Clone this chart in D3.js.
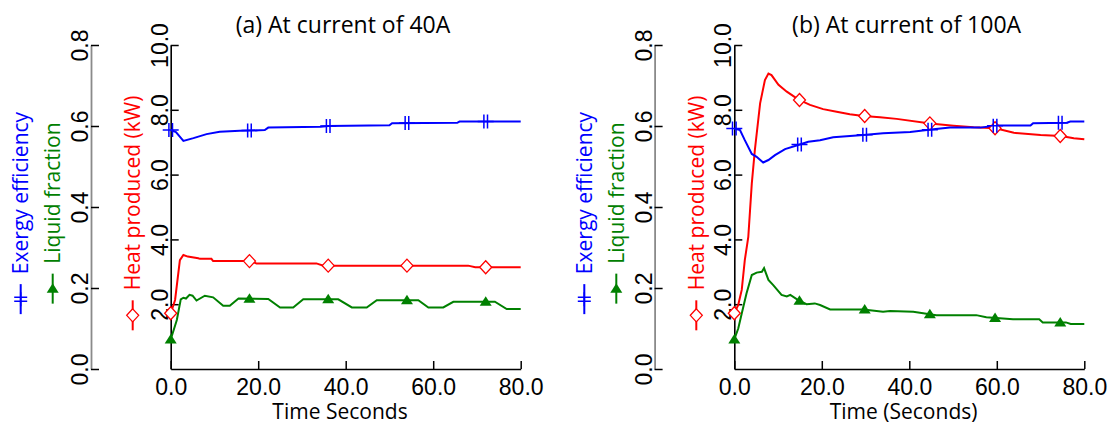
<!DOCTYPE html>
<html>
<head>
<meta charset="utf-8">
<script src="https://cdn.jsdelivr.net/npm/d3@7"></script>
<style>
  body { margin: 0; background: #fff; }
  .tick text { font-family: "Liberation Sans", Arial, sans-serif; font-size: 23px; fill: #000; }
  .lbl { font-family: "Open Sans", sans-serif; }
</style>
</head>
<body>
<svg width="1113" height="428"></svg>
<script>
// Tick values
var timeTicks = [0, 20, 40, 60, 80];
var heatTicks = [2, 4, 6, 8, 10];
var fracTicks = [0, 0.2, 0.4, 0.6, 0.8];

// (a) At current of 40A
var exergyTimeA = [0, 1.2, 2.9, 5.2, 8.2, 11.2, 15.8, 21.5, 22.3, 34.3, 36, 50, 50.6, 65.5, 66, 80];
var exergyA     = [0.590, 0.585, 0.563, 0.570, 0.580, 0.586, 0.588, 0.590, 0.596, 0.598, 0.600, 0.602, 0.607, 0.608, 0.611, 0.611];

var heatTimeA = [0, 1.0, 2.1, 2.9, 3.9, 6.3, 6.7, 9.3, 9.7, 18.1, 19.6, 33.3, 34.9, 68, 69.6, 80];
var heatA     = [1.72, 2.13, 3.36, 3.52, 3.47, 3.42, 3.40, 3.40, 3.33, 3.33, 3.26, 3.26, 3.19, 3.19, 3.14, 3.14];

var liquidTimeA = [0, 1.4, 2.3, 2.9, 3.5, 4.3, 5.0, 5.9, 7.8, 9.7, 12.0, 13.5, 15.5, 22.3, 25.0, 28.0, 30.3, 38.3, 41.4, 44.8, 47.1, 56.6, 58.9, 62.3, 64.6, 74.1, 76.8, 80];
var liquidA     = [0.073, 0.121, 0.172, 0.176, 0.174, 0.183, 0.181, 0.169, 0.181, 0.177, 0.156, 0.156, 0.174, 0.173, 0.152, 0.152, 0.172, 0.172, 0.152, 0.152, 0.170, 0.170, 0.152, 0.152, 0.166, 0.166, 0.148, 0.148];

var markTimesA = [0, 18, 36, 54, 72];

// (b) At current of 100A
var exergyTimeB = [0, 1.3, 2.4, 4.0, 5.1, 6.6, 7.8, 9.3, 11.6, 14.6, 16.9, 19.6, 22.6, 29.5, 34.0, 40.2, 45.5, 49.3, 56.2, 60.0, 67.7, 68.3, 76.0, 76.8, 80];
var exergyB     = [0.594, 0.590, 0.565, 0.531, 0.524, 0.510, 0.516, 0.528, 0.543, 0.553, 0.561, 0.565, 0.572, 0.578, 0.582, 0.585, 0.592, 0.596, 0.596, 0.601, 0.601, 0.607, 0.608, 0.611, 0.611];

var heatTimeB = [0, 0.9, 1.7, 2.4, 3.2, 4.0, 4.7, 5.9, 7.0, 7.8, 8.5, 10.1, 12.0, 14.6, 17.3, 20.3, 23.4, 26.4, 29.5, 33.3, 37.1, 44.8, 50.1, 54.7, 59.7, 63.9, 70.0, 74.7, 77.6, 80];
var heatB     = [1.72, 1.98, 2.44, 3.36, 4.08, 5.73, 6.76, 8.20, 8.92, 9.12, 9.07, 8.77, 8.56, 8.32, 8.15, 8.02, 7.94, 7.86, 7.81, 7.77, 7.72, 7.58, 7.51, 7.46, 7.43, 7.29, 7.22, 7.19, 7.12, 7.09];

var liquidTimeB = [0, 0.9, 1.7, 2.8, 4.0, 5.1, 6.3, 6.8, 7.8, 8.9, 10.8, 12.0, 12.8, 14.6, 16.5, 18.4, 19.6, 21.9, 29.5, 34.0, 35.6, 40.9, 46.2, 55.3, 57.6, 63.7, 69.7, 70.5, 75.8, 76.9, 80];
var liquidB     = [0.073, 0.100, 0.137, 0.187, 0.232, 0.238, 0.240, 0.249, 0.220, 0.207, 0.183, 0.179, 0.183, 0.170, 0.160, 0.162, 0.158, 0.147, 0.147, 0.1415, 0.143, 0.1415, 0.133, 0.133, 0.1276, 0.1226, 0.1226, 0.115, 0.115, 0.111, 0.111];

var markTimesB = [0, 14.9, 29.8, 44.7, 59.6, 74.5];

// Colours
var blue = "#0000ff", red = "#ff0000", green = "#008000";

var svg = d3.select("svg");

var panels = [
  { dx: 0, title: "(a) At current of 40A", xlabel: "Time Seconds",
    exergy: d3.zip(exergyTimeA, exergyA), heat: d3.zip(heatTimeA, heatA),
    liquid: d3.zip(liquidTimeA, liquidA), marks: markTimesA },
  { dx: 563.6, title: "(b) At current of 100A", xlabel: "Time (Seconds)",
    exergy: d3.zip(exergyTimeB, exergyB), heat: d3.zip(heatTimeB, heatB),
    liquid: d3.zip(liquidTimeB, liquidB), marks: markTimesB }
];

panels.forEach(drawPanel);

// Panel drawing
// -------------

function drawPanel(p) {
  var g = svg.append("g").attr("transform", "translate(" + p.dx + ",0)");

  var x = d3.scaleLinear().domain([0, 80]).range([170.7, 520.7]),
      yHeat = d3.scaleLinear().domain([0, 10]).range([369, 45]),
      yFrac = d3.scaleLinear().domain([0, 0.8]).range([369, 45]);

  // outer axis (exergy / liquid fraction)
  var outer = g.append("g").attr("transform", "translate(91,0)")
      .call(d3.axisLeft(yFrac).tickValues(fracTicks).tickSizeInner(-8).tickSizeOuter(0).tickFormat(d3.format(".1f")));
  outer.select(".domain").attr("stroke", "#8a8a8a").attr("stroke-width", 1.8);
  styleY(outer);

  // heat axis
  var inner = g.append("g").attr("transform", "translate(170.7,0)")
      .call(d3.axisLeft(yHeat).tickValues(heatTicks).tickSizeInner(-8).tickSizeOuter(0).tickFormat(d3.format(".1f")));
  inner.select(".domain").attr("stroke-width", 1.6);
  styleY(inner);

  // time axis
  var bottom = g.append("g").attr("transform", "translate(0,369)")
      .call(d3.axisBottom(x).tickValues(timeTicks).tickSizeInner(-8).tickSizeOuter(0).tickFormat(d3.format(".1f")));
  bottom.select(".domain").attr("stroke-width", 1.6);
  bottom.selectAll(".tick line").attr("stroke-width", 1.5);
  bottom.selectAll(".tick text").attr("y", 26).attr("dy", null);

  // lines
  var lineFrac = d3.line().x(function(d) { return x(d[0]); }).y(function(d) { return yFrac(d[1]); });
  var lineHeat = d3.line().x(function(d) { return x(d[0]); }).y(function(d) { return yHeat(d[1]); });

  g.append("path").datum(p.liquid).attr("d", lineFrac)
      .attr("fill", "none").attr("stroke", green).attr("stroke-width", 2);
  g.append("path").datum(p.heat).attr("d", lineHeat)
      .attr("fill", "none").attr("stroke", red).attr("stroke-width", 2);
  g.append("path").datum(p.exergy).attr("d", lineFrac)
      .attr("fill", "none").attr("stroke", blue).attr("stroke-width", 2);

  // markers
  p.marks.forEach(function(t) {
    drawMarker(g, "tri", x(t), yFrac(valueAt(p.liquid, t)));
    drawMarker(g, "diamond", x(t), yHeat(valueAt(p.heat, t)));
    drawMarker(g, "cross", x(t), yFrac(valueAt(p.exergy, t)));
  });

  // titles
  g.append("text").attr("class", "lbl")
      .attr("x", 343).attr("y", 33).attr("text-anchor", "middle")
      .attr("font-size", 23).text(p.title);
  g.append("text").attr("class", "lbl")
      .attr("x", 340).attr("y", 418.5).attr("text-anchor", "middle")
      .attr("font-size", 21).text(p.xlabel);

  // rotated legends
  legendEntry(g, 20.7, "Exergy efficiency", blue, "crossLegend");
  legendEntry(g, 52.7, "Liquid fraction", green, "tri");
  legendEntry(g, 132.7, "Heat produced (kW)", red, "diamond");
}

function styleY(ax) {
  ax.selectAll(".tick line").attr("stroke-width", 1.5);
  ax.selectAll(".tick text")
      .attr("x", 0).attr("y", 0).attr("dy", null)
      .attr("text-anchor", "middle")
      .attr("transform", "translate(-3,0) rotate(-90)");
}

function legendEntry(g, mx, label, color, shape) {
  var yc = 213;
  var txt = g.append("text").attr("class", "lbl")
      .attr("font-size", 21).attr("fill", color)
      .attr("dy", "0.35em").text(label);
  var len = txt.node().getComputedTextLength();
  var w = 40 + len;
  var yb = yc + w / 2;
  txt.attr("transform", "translate(" + mx + "," + (yb - 40) + ") rotate(-90)");
  g.append("line").attr("x1", mx).attr("x2", mx).attr("y1", yb).attr("y2", yb - 30)
      .attr("stroke", color).attr("stroke-width", 2);
  drawMarker(g, shape, mx, yb - 15);
}

function drawMarker(g, shape, cx, cy) {
  var m = g.append("g").attr("transform", "translate(" + cx + "," + cy + ")");
  if (shape == "tri") {
    m.append("path").attr("d", "M0,-5.5L6,4L-6,4Z").attr("fill", green);
  } else if (shape == "diamond") {
    m.append("path").attr("d", "M0,-6.5L6,0L0,6.5L-6,0Z")
        .attr("fill", "#fff").attr("stroke", red).attr("stroke-width", 1.3);
  } else if (shape == "cross") {
    m.append("path").attr("d", "M-8,0H8M-1.8,-7V7M1.8,-7V7")
        .attr("fill", "none").attr("stroke", blue).attr("stroke-width", 1.5);
  } else {
    m.append("path").attr("d", "M-6.5,-2H6.5M-6.5,2H6.5M0,-7V7")
        .attr("fill", "none").attr("stroke", blue).attr("stroke-width", 1.5);
  }
}

// Utility functions
// -----------------

function valueAt(series, t) {
  var i = d3.bisector(function(d) { return d[0]; }).left(series, t);
  if (i <= 0) return series[0][1];
  if (i >= series.length) return series[series.length - 1][1];
  var a = series[i - 1], b = series[i];
  return a[1] + (b[1] - a[1]) * (t - a[0]) / (b[0] - a[0]);
}
</script>
</body>
</html>
